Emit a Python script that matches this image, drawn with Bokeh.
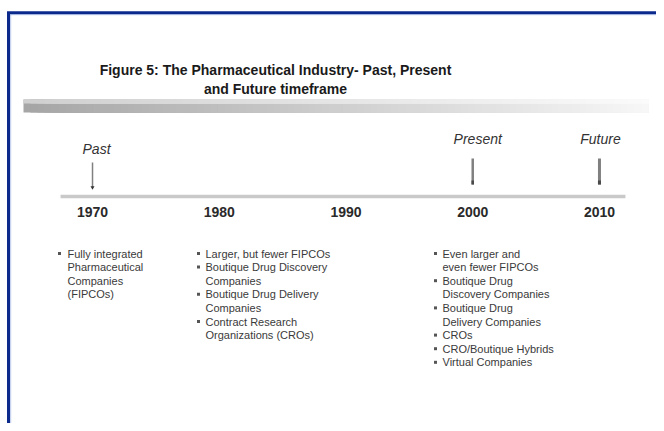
from bokeh.plotting import figure
from bokeh.models import Range1d
from bokeh.core.properties import value
from bokeh.embed import file_html
from bokeh.resources import INLINE

# ---- data ----
years = [1970, 1980, 1990, 2000, 2010]
year_labels = ["1970", "1980", "1990", "2000", "2010"]
eras = ["Past", "Present", "Future"]
era_years = [1970, 2000, 2010]
title_lines = ["Figure 5: The Pharmaceutical Industry- Past, Present",
               "and Future timeframe"]
col1_items = ["Fully integrated\nPharmaceutical\nCompanies\n(FIPCOs)"]
col2_items = ["Larger, but fewer FIPCOs",
              "Boutique Drug Discovery\nCompanies",
              "Boutique Drug Delivery\nCompanies",
              "Contract Research\nOrganizations (CROs)"]
col3_items = ["Even larger and\neven fewer FIPCOs",
              "Boutique Drug\nDiscovery Companies",
              "Boutique Drug\nDelivery Companies",
              "CROs",
              "CRO/Boutique Hybrids",
              "Virtual Companies"]

W, H = 656, 423
FONT = value("Liberation Sans")

p = figure(width=W, height=H, output_backend="svg", toolbar_location=None,
           x_range=Range1d(0, W), y_range=Range1d(H, 0), min_border=0,
           background_fill_color="white", border_fill_color="white")
p.axis.visible = False
p.grid.visible = False
p.outline_line_color = None

# year scale (library scale maps years to pixels)
p.extra_x_ranges = {"yr": Range1d(1962.74, 2014.50)}

# blue frame (top and left)
p.segment(x0=[6.5, 8], y0=[12.3, 12.3], x1=[W, 8], y1=[12.3, H],
          line_color="#0b2a8c", line_width=3)
p.segment(x0=[9.5, 10.2], y0=[14.2, 14.2], x1=[W, 10.2], y1=[14.2, H],
          line_color="#6f8fd8", line_width=0.8, line_alpha=0.6)

# title
p.text(x=[275, 275], y=[69, 88], text=title_lines, text_font=FONT,
       text_font_style="bold", text_font_size="14px", text_color="#1a1a1a",
       text_align="center", text_baseline="middle")

# gradient bar (stacked quads, each covering to the right end: no seams)
n = 90
x0, x1 = 23, 648
step = (x1 - x0) / n
lefts = [x0 + i * step for i in range(n)]
rights = [x1] * n
def mix(t, a, b):
    c = int(a + (b - a) * t)
    return "#%02x%02x%02x" % (c, c, c)
cols = [mix(i / (n - 1), 166, 247) for i in range(n)]
cols_top = [mix(i / (n - 1), 208, 251) for i in range(n)]
p.quad(left=lefts, right=rights, top=[99] * n, bottom=[112] * n,
       fill_color=cols, line_color=None)
p.quad(left=lefts, right=rights, top=[99] * n, bottom=[103] * n,
       fill_color=cols_top, line_color=None)

# timeline
p.segment(x0=[1967.48], y0=[196], x1=[2012.05], y1=[196], x_range_name="yr",
          line_color="#c9c9c9", line_width=3.5)

# era markers
p.text(x=era_years, y=[148, 138, 138], text=eras, x_range_name="yr",
       text_font=FONT, text_font_style="italic", text_font_size="14px",
       text_color="#333333", text_align="center", text_baseline="middle",
       x_offset=[4, 5, 1])
p.segment(x0=era_years, y0=[162, 158, 158], x1=era_years, y1=[187, 184, 184],
          x_range_name="yr", line_color="#808080", line_width=[1.5, 2.5, 3])
p.segment(x0=era_years[1:], y0=[180, 180], x1=era_years[1:], y1=[184, 184],
          x_range_name="yr", line_color="#4a4a4a", line_width=[2.5, 3])
p.scatter(x=[1970], y=[187], x_range_name="yr", marker="triangle",
          angle=3.14159, size=4, fill_color="#333333", line_color=None)

# year labels
p.text(x=years, y=[211] * 5, text=year_labels, x_range_name="yr",
       text_font=FONT, text_font_style="bold", text_font_size="14px",
       text_color="#2a2a2a", text_align="center", text_baseline="middle")

# bullet columns
def column(items, xb, xt, y0, dy=13.6):
    bx, by, tx, ty, tt = [], [], [], [], []
    y = y0
    for it in items:
        lines = it.split("\n")
        bx.append(xb); by.append(y)
        for ln in lines:
            tx.append(xt); ty.append(y); tt.append(ln)
            y += dy
    p.scatter(x=bx, y=by, marker="square", size=3, fill_color="#555555",
              line_color=None)
    p.text(x=tx, y=ty, text=tt, text_font=FONT, text_font_size="11px",
           text_color="#3a3a3a", text_align="left", text_baseline="middle")

column(col1_items, 59, 67, 253)
column(col2_items, 198, 205, 253)
column(col3_items, 435, 442, 253)

open("out.html", "w").write(file_html(p, INLINE))
